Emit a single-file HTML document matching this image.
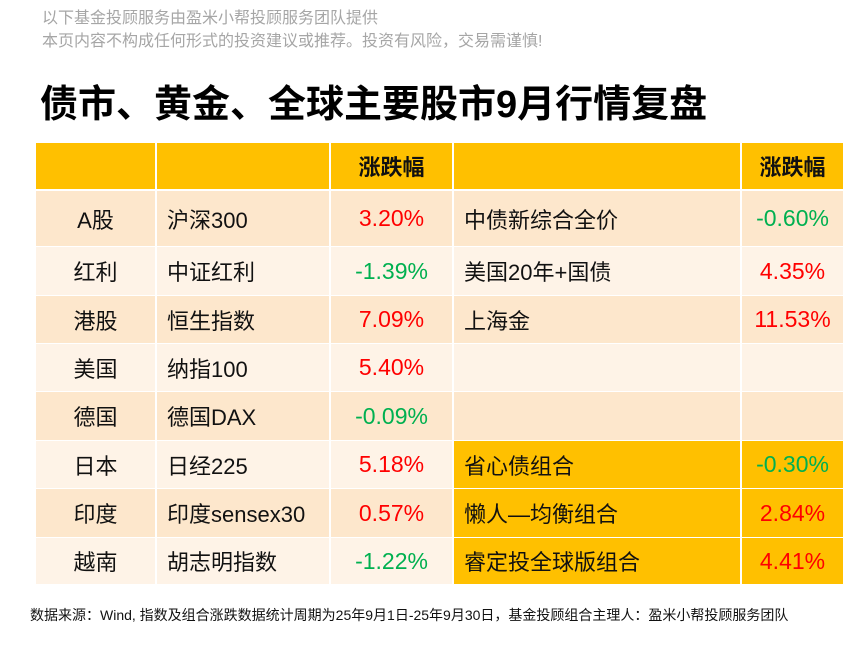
<!DOCTYPE html>
<html><head><meta charset="utf-8"><style>
body{margin:0;width:865px;height:649px;background:#fff;position:relative;overflow:hidden;font-family:"Liberation Sans","Noto Sans CJK SC",sans-serif}
.t{position:absolute;white-space:nowrap}
.c{position:absolute;display:flex;align-items:center;font-size:22px;color:#111;box-sizing:border-box}
.ctr{justify-content:center}
.l{padding-left:10px}
.r{color:#ff0000;font-size:23px}.g{color:#00b050;font-size:23px}
</style></head><body>
<div class="t" style="left:42px;top:7px;font-size:16px;color:#a6a6a6;line-height:23px">以下基金投顾服务由盈米小帮投顾服务团队提供<br>本页内容不构成任何形式的投资建议或推荐。投资有风险，交易需谨慎!</div>
<div class="t" style="left:40px;top:73px;font-size:38px;font-weight:bold;color:#000">债市、黄金、全球主要股市9月行情复盘</div>
<div id="tb"></div>
<div class="t" style="left:30px;top:605px;font-size:14px;color:#111">数据来源：Wind, 指数及组合涨跌数据统计周期为25年9月1日-25年9月30日，基金投顾组合主理人：盈米小帮投顾服务团队</div>
<script>
(function(){
var xs=[36,155,329,452,740,843];
var ys=[143,189,246,295,343,391,440,488,537,584];
var rows=[
["","","涨跌幅","","涨跌幅"],
["A股","沪深300","3.20%","中债新综合全价","-0.60%"],
["红利","中证红利","-1.39%","美国20年+国债","4.35%"],
["港股","恒生指数","7.09%","上海金","11.53%"],
["美国","纳指100","5.40%","",""],
["德国","德国DAX","-0.09%","",""],
["日本","日经225","5.18%","省心债组合","-0.30%"],
["印度","印度sensex30","0.57%","懒人—均衡组合","2.84%"],
["越南","胡志明指数","-1.22%","睿定投全球版组合","4.41%"]];
var h="";
for(var r=0;r<rows.length;r++){
 var y0=(r==0?143:ys[r]+(r==1?2:1)), y1=ys[r+1];
 for(var c=0;c<5;c++){
  var bg=r==0?"#ffc000":(r%2==1?"#fde7cc":"#fef3e7");
  if(c>=3&&r>=6)bg="#ffc000";
  var lx=xs[c]+(c>0?2:0), w=xs[c+1]-lx;
  var txt=rows[r][c], cls="c "+((c==1||c==3)?"l":"ctr");
  var st="";
  if(c==2||c==4){ if(r==0)st="font-weight:bold;"; else cls+=(txt.charAt(0)=="-"?" g":" r");}
  h+='<div class="'+cls+'" style="'+st+'left:'+lx+'px;top:'+y0+'px;width:'+w+'px;height:'+(y1-y0)+'px;background:'+bg+'">'+txt+'</div>';
 }
}
document.getElementById("tb").innerHTML=h;
})();
</script>
</body></html>
